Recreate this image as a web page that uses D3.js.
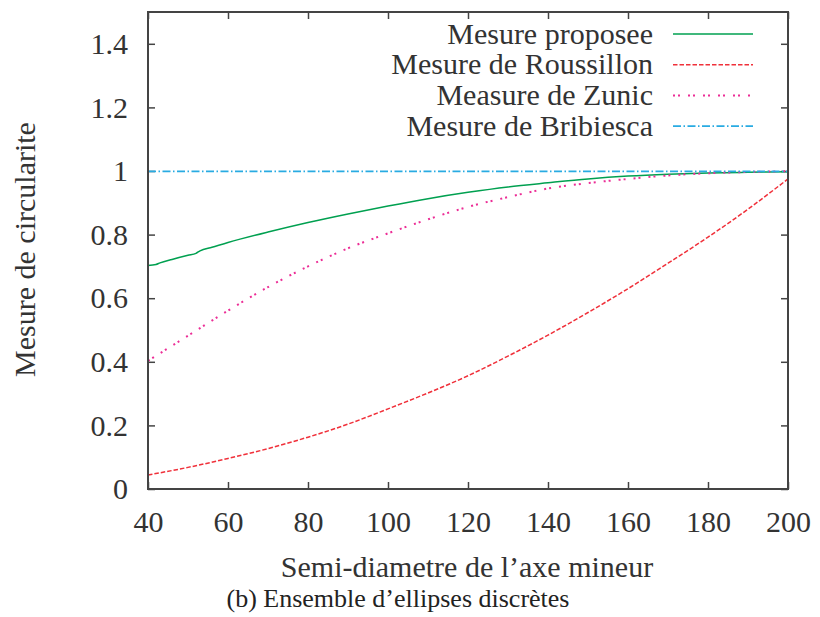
<!DOCTYPE html>
<html>
<head>
<meta charset="utf-8">
<script src="https://cdn.jsdelivr.net/npm/d3@7"></script>
<style>
  body { margin: 0; background: #fff; }
</style>
</head>
<body>
<div id="chart"></div>
<script>
// x grid shared by three of the curves
const xValues = [40, 50, 60, 70, 80, 90, 100, 110, 120, 130, 140, 150, 160, 170, 180, 190, 200];
const roussillon = [0.044, 0.068, 0.096, 0.127, 0.163, 0.204, 0.252, 0.302, 0.356, 0.418, 0.484, 0.555, 0.630, 0.710, 0.792, 0.880, 0.975];
const zunic = [0.403, 0.482, 0.561, 0.635, 0.700, 0.757, 0.804, 0.848, 0.887, 0.918, 0.945, 0.962, 0.975, 0.986, 0.993, 0.997, 0.999];
const bribiesca = [0.999, 0.999, 0.999, 0.999, 0.999, 0.999, 0.999, 0.999, 0.999, 0.999, 0.999, 0.999, 0.999, 0.999, 0.999, 0.999, 0.999];
// the proposed measure has a small jump near x=52, so it gets its own x values
const xProposee = [40, 42, 43, 46, 50, 52, 53, 56, 60, 70, 80, 90, 100, 110, 120, 130, 140, 150, 160, 170, 180, 190, 200];
const proposee = [0.703, 0.706, 0.711, 0.722, 0.735, 0.741, 0.749, 0.760, 0.775, 0.808, 0.838, 0.865, 0.890, 0.913, 0.933, 0.950, 0.963, 0.975, 0.984, 0.990, 0.994, 0.996, 0.998];

const xTicks = [40, 60, 80, 100, 120, 140, 160, 180, 200];
const yTicks = [0, 0.2, 0.4, 0.6, 0.8, 1, 1.2, 1.4];

const series = [
  { name: 'Mesure proposee', xs: xProposee, ys: proposee, color: '#00a050', dash: null, w: 1.5 },
  { name: 'Mesure de Roussillon', xs: xValues, ys: roussillon, color: '#f0303a', dash: '4.5,2', w: 1.5 },
  { name: 'Measure de Zunic', xs: xValues, ys: zunic, color: '#ec2d96', dash: '2,3,2,8', w: 2 },
  { name: 'Mesure de Bribiesca', xs: xValues, ys: bribiesca, color: '#29abe2', dash: '8,2.5,1.5,2.5', w: 1.8 }
];

const serif = "'Liberation Serif', 'Times New Roman', Times, 'DejaVu Serif', serif";
const width = 820, height = 617;
const m = { left: 148, right: 32, top: 12, bottom: 128 };

const svg = d3.select('#chart').append('svg')
  .attr('width', width).attr('height', height)
  .style('font-family', serif);

const x = d3.scaleLinear().domain([40, 200]).range([m.left, width - m.right]);
const y = d3.scaleLinear().domain([0, 1.5]).range([height - m.bottom, m.top]);

const fmtY = d => (d === 0 || d === 1) ? d3.format('d')(d) : d3.format('.1f')(d);

function styleAxis(g) {
  g.attr('font-family', null).attr('font-size', 30);
  g.select('.domain').remove();
  g.selectAll('.tick line').attr('stroke', '#444').attr('stroke-width', 1.5);
  g.selectAll('.tick text').attr('fill', '#333');
}

svg.append('g')
  .attr('transform', `translate(0,${y(0)})`)
  .call(d3.axisBottom(x).tickValues(xTicks).tickSizeInner(-7).tickSizeOuter(0).tickPadding(22))
  .call(styleAxis);

svg.append('g')
  .attr('transform', `translate(0,${y(1.5)})`)
  .call(d3.axisTop(x).tickValues(xTicks).tickSizeInner(-7).tickSizeOuter(0).tickFormat(''))
  .call(styleAxis);

svg.append('g')
  .attr('transform', `translate(${x(40)},0)`)
  .call(d3.axisLeft(y).tickValues(yTicks).tickSizeInner(-7).tickSizeOuter(0).tickPadding(20).tickFormat(fmtY))
  .call(styleAxis);

svg.append('g')
  .attr('transform', `translate(${x(200)},0)`)
  .call(d3.axisRight(y).tickValues(yTicks).tickSizeInner(-7).tickSizeOuter(0).tickFormat(''))
  .call(styleAxis);

const line = d3.line().x(d => x(d[0])).y(d => y(d[1])).curve(d3.curveMonotoneX);

svg.append('g').selectAll('path')
  .data(series)
  .join('path')
  .attr('d', s => line(s.xs.map((v, i) => [v, s.ys[i]])))
  .attr('fill', 'none')
  .attr('stroke', s => s.color)
  .attr('stroke-width', s => s.w)
  .attr('stroke-dasharray', s => s.dash);

// frame
svg.append('rect')
  .attr('x', x(40)).attr('y', y(1.5))
  .attr('width', x(200) - x(40)).attr('height', y(0) - y(1.5))
  .attr('fill', 'none').attr('stroke', '#444').attr('stroke-width', 2);

// legend, top right inside the frame
const legend = svg.append('g').selectAll('g')
  .data(series)
  .join('g')
  .attr('transform', (s, i) => `translate(0,${34 + i * 30.7})`);

legend.append('text')
  .attr('x', 653).attr('dy', '0.32em')
  .attr('text-anchor', 'end').attr('font-size', 30).attr('fill', '#333')
  .text(s => s.name);

legend.append('line')
  .attr('x1', 673).attr('x2', 753)
  .attr('stroke', s => s.color).attr('stroke-width', s => s.w)
  .attr('stroke-dasharray', s => s.dash);

// axis titles and caption
svg.append('text')
  .attr('transform', `translate(35,${(y(0) + y(1.5)) / 2 - 1}) rotate(-90)`)
  .attr('text-anchor', 'middle').attr('font-size', 30).attr('fill', '#333')
  .text('Mesure de circularite');

svg.append('text')
  .attr('x', 467).attr('y', 577)
  .attr('text-anchor', 'middle').attr('font-size', 30).attr('fill', '#333')
  .text('Semi-diametre de l\u2019axe mineur');

svg.append('text')
  .attr('x', 398).attr('y', 607)
  .attr('text-anchor', 'middle').attr('font-size', 26).attr('fill', '#222')
  .text('(b) Ensemble d\u2019ellipses discr\u00e8tes');
</script>
</body>
</html>
